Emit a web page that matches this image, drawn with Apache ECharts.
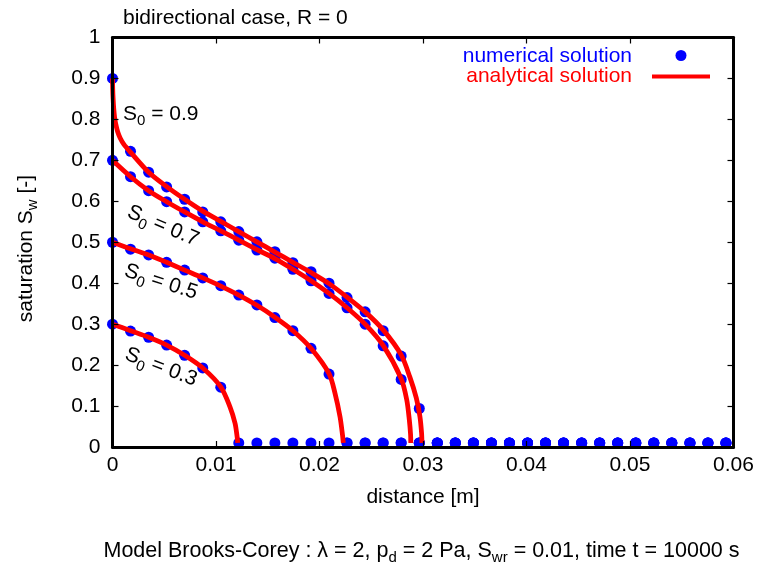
<!DOCTYPE html>
<html><head><meta charset="utf-8">
<script src="https://cdn.jsdelivr.net/npm/echarts@6/dist/echarts.min.js"></script>
<style>html,body{margin:0;padding:0;background:#fff}#c{width:762px;height:568px}</style>
</head><body><div id="c"></div>
<script>
// ---- data ----
const xNum = [0, 0.00174, 0.00349, 0.00523, 0.00697, 0.00872, 0.01046, 0.01220, 0.01395, 0.01569,
  0.01743, 0.01918, 0.02092, 0.02266, 0.02441, 0.02615, 0.02789, 0.02964, 0.03138, 0.03312,
  0.03487, 0.03661, 0.03835, 0.04010, 0.04184, 0.04358, 0.04533, 0.04707, 0.04881, 0.05056,
  0.05230, 0.05404, 0.05579, 0.05753, 0.05927];
const num09 = [0.9, 0.722, 0.671, 0.635, 0.605, 0.574, 0.550, 0.526, 0.501, 0.477,
  0.450, 0.428, 0.400, 0.365, 0.330, 0.284, 0.222, 0.094, 0.01, 0.01,
  0.01, 0.01, 0.01, 0.01, 0.01, 0.01, 0.01, 0.01, 0.01, 0.01,
  0.01, 0.01, 0.01, 0.01, 0.01];
const num07 = [0.7, 0.660, 0.626, 0.599, 0.574, 0.550, 0.528, 0.505, 0.481, 0.461,
  0.434, 0.406, 0.375, 0.340, 0.300, 0.247, 0.165, 0.01, 0.01, 0.01,
  0.01, 0.01, 0.01, 0.01, 0.01, 0.01, 0.01, 0.01, 0.01, 0.01,
  0.01, 0.01, 0.01, 0.01, 0.01];
const num05 = [0.5, 0.483, 0.469, 0.451, 0.432, 0.413, 0.394, 0.371, 0.347, 0.316,
  0.284, 0.241, 0.178, 0.01, 0.01, 0.01, 0.01, 0.01, 0.01, 0.01,
  0.01, 0.01, 0.01, 0.01, 0.01, 0.01, 0.01, 0.01, 0.01, 0.01,
  0.01, 0.01, 0.01, 0.01, 0.01];
const num03 = [0.3, 0.283, 0.268, 0.249, 0.224, 0.193, 0.146, 0.01, 0.01, 0.01,
  0.01, 0.01, 0.01, 0.01, 0.01, 0.01, 0.01, 0.01, 0.01, 0.01,
  0.01, 0.01, 0.01, 0.01, 0.01, 0.01, 0.01, 0.01, 0.01, 0.01,
  0.01, 0.01, 0.01, 0.01, 0.01];

const ana09X = [0, 0.00002, 0.00006, 0.00012, 0.0002, 0.00032, 0.0005, 0.00075, 0.0011, 0.00174, 0.00349, 0.00523, 0.00697, 0.00872, 0.01046, 0.0122, 0.01395, 0.01569, 0.01743, 0.01918, 0.02092, 0.02266, 0.02441, 0.02615, 0.02789, 0.02874, 0.02935, 0.02970, 0.02986, 0.02990];
const ana09Y = [0.9, 0.875, 0.85, 0.826, 0.806, 0.788, 0.770, 0.754, 0.739, 0.720, 0.671, 0.636, 0.605, 0.576, 0.551, 0.526, 0.501, 0.476, 0.451, 0.426, 0.399, 0.366, 0.330, 0.286, 0.225, 0.170, 0.120, 0.075, 0.035, 0.010];
const ana07X = [0, 0.00174, 0.00349, 0.00523, 0.00697, 0.00872, 0.01046, 0.0122, 0.01395, 0.01569, 0.01743, 0.01918, 0.02092, 0.02266, 0.02441, 0.02615, 0.02789, 0.02843, 0.02868, 0.02880, 0.02882];
const ana07Y = [0.7, 0.660, 0.626, 0.599, 0.574, 0.550, 0.528, 0.505, 0.482, 0.460, 0.434, 0.406, 0.375, 0.340, 0.300, 0.248, 0.167, 0.115, 0.066, 0.030, 0.010];
const ana05X = [0, 0.00174, 0.00349, 0.00523, 0.00697, 0.00872, 0.01046, 0.0122, 0.01395, 0.01569, 0.01743, 0.01918, 0.02092, 0.0215, 0.02198, 0.02222, 0.0223];
const ana05Y = [0.5, 0.484, 0.469, 0.451, 0.432, 0.413, 0.393, 0.371, 0.346, 0.317, 0.284, 0.241, 0.179, 0.131, 0.074, 0.030, 0.010];
const ana03X = [0, 0.00174, 0.00349, 0.00523, 0.00697, 0.00872, 0.01046, 0.01135, 0.01184, 0.01204, 0.0121];
const ana03Y = [0.3, 0.284, 0.268, 0.249, 0.224, 0.193, 0.147, 0.098, 0.058, 0.025, 0.010];

const xAxisRange = {min: 0, max: 0.06, interval: 0.01};
const yAxisRange = {min: 0, max: 1, interval: 0.1};

// ---- chart ----
const FONT = 'Liberation Sans';
const FS = 21;
const chart = echarts.init(document.getElementById('c'), null, {renderer: 'canvas'});
const pairs = (xs, ys) => xs.map((x, i) => [x, ys[i]]);

const numSeries = [num09, num07, num05, num03].map(v => ({
  type: 'scatter', data: pairs(xNum, v), symbol: 'circle', symbolSize: 11,
  itemStyle: {color: '#0000ff', opacity: 1}, z: 2, silent: true
}));
const anaSeries = [[ana09X, ana09Y], [ana07X, ana07Y], [ana05X, ana05Y], [ana03X, ana03Y]].map(p => ({
  type: 'line', data: pairs(p[0], p[1]), showSymbol: false, symbol: 'none',
  smooth: 0.3,
  lineStyle: {color: '#ff0000', width: 4.8, opacity: 1, cap: 'butt', join: 'round'}, z: 3, silent: true
}));

const axisCommon = {
  axisLine: {show: true, onZero: false, lineStyle: {color: '#000', width: 3}},
  axisTick: {show: true, inside: true, length: 6, lineStyle: {color: '#000', width: 1.2}},
  splitLine: {show: false}
};

const subRich = {sub: {fontSize: 15, fontFamily: FONT, padding: [14, 0, 0, 0]}};
function txt(text, x, y, opts) {
  return Object.assign({
    type: 'text', x: x, y: y, silent: true, z: 100,
    style: Object.assign({text: text, fontSize: FS, fontFamily: FONT, fill: '#000',
      align: 'center', verticalAlign: 'middle', rich: subRich}, (opts && opts.style) || {})
  }, (opts && opts.el) || {});
}

chart.setOption({
  animation: false,
  backgroundColor: '#fff',
  grid: {left: 112.5, right: 28.5, top: 37.5, bottom: 121, show: false, outerBoundsMode: 'none'},
  xAxis: [
    Object.assign({type: 'value', position: 'bottom', z: 10,
      axisLabel: {show: true, margin: 8, color: '#000', fontSize: FS, fontFamily: FONT, showMinLabel: true, showMaxLabel: true, hideOverlap: false}
    }, xAxisRange, axisCommon),
    Object.assign({type: 'value', position: 'top', z: 10, axisLabel: {show: false}}, xAxisRange, axisCommon)
  ],
  yAxis: [
    Object.assign({type: 'value', position: 'left', z: 10,
      axisLabel: {show: true, margin: 12, color: '#000', fontSize: FS, fontFamily: FONT, showMinLabel: true, showMaxLabel: true, hideOverlap: false}
    }, yAxisRange, axisCommon),
    Object.assign({type: 'value', position: 'right', z: 10, axisLabel: {show: false}}, yAxisRange, axisCommon)
  ],
  series: numSeries.concat(anaSeries),
  graphic: [
    txt('bidirectional case, R = 0', 123, 18, {style: {align: 'left'}}),
    txt('distance [m]', 423, 497),
    txt('saturation S{sub|w} [-]', 26, 248.5, {el: {rotation: Math.PI / 2}}),
    txt('Model Brooks-Corey : \u03bb = 2, p{sub|d} = 2 Pa, S{sub|wr} = 0.01, time t = 10000 s', 421.5, 551, {style: {fontSize: 21.5}}),
    txt('numerical solution', 632, 56, {style: {align: 'right', fill: '#0000ff'}}),
    txt('analytical solution', 632, 76.5, {style: {align: 'right', fill: '#ff0000'}}),
    {type: 'circle', shape: {cx: 681, cy: 55.5, r: 5.5}, style: {fill: '#0000ff'}, silent: true, z: 100},
    {type: 'line', shape: {x1: 652, y1: 76.5, x2: 710, y2: 76.5}, style: {stroke: '#ff0000', lineWidth: 4}, silent: true, z: 100},
    txt('S{sub|0} = 0.9', 123, 114, {style: {align: 'left'}}),
    txt('S{sub|0} = 0.7', 163, 226, {el: {rotation: -23 * Math.PI / 180}}),
    txt('S{sub|0} = 0.5', 161, 282, {el: {rotation: -18 * Math.PI / 180}}),
    txt('S{sub|0} = 0.3', 161, 367, {el: {rotation: -21 * Math.PI / 180}})
  ]
});
</script>
</body></html>
